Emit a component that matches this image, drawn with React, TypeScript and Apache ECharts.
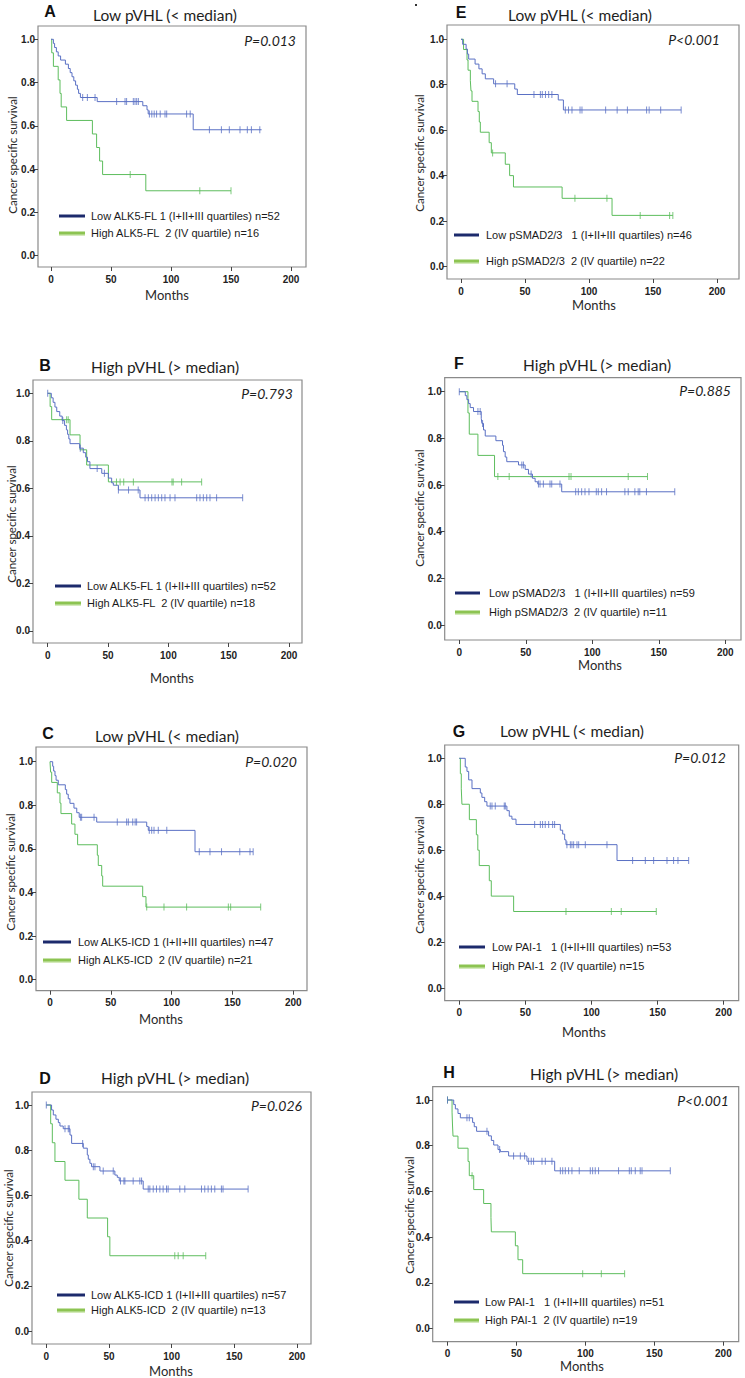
import React, { useEffect, useRef } from "react";
import * as echarts from "echarts";

// ---------- tick values ----------
const xTicks = [0, 50, 100, 150, 200];
const yTicks = [0, 0.2, 0.4, 0.6, 0.8, 1.0];

// ---------- texts ----------
const panelLetters = ["A", "B", "C", "D", "E", "F", "G", "H"];
const panelTitles = [
  "Low pVHL (< median)", "High pVHL (> median)", "Low pVHL (< median)", "High pVHL (> median)",
  "Low pVHL (< median)", "High pVHL (> median)", "Low pVHL (< median)", "High pVHL (> median)",
];
const pValues = ["P=0.013", "P=0.793", "P=0.020", "P=0.026", "P<0.001", "P=0.885", "P=0.012", "P<0.001"];
const lowLabels = [
  "Low ALK5-FL 1 (I+II+III quartiles) n=52",
  "Low ALK5-FL 1 (I+II+III quartiles) n=52",
  "Low ALK5-ICD 1 (I+II+III quartiles) n=47",
  "Low ALK5-ICD 1 (I+II+III quartiles) n=57",
  "Low pSMAD2/3   1 (I+II+III quartiles) n=46",
  "Low pSMAD2/3   1 (I+II+III quartiles) n=59",
  "Low PAI-1   1 (I+II+III quartiles) n=53",
  "Low PAI-1   1 (I+II+III quartiles) n=51",
];
const highLabels = [
  "High ALK5-FL  2 (IV quartile) n=16",
  "High ALK5-FL  2 (IV quartile) n=18",
  "High ALK5-ICD  2 (IV quartile) n=21",
  "High ALK5-ICD  2 (IV quartile) n=13",
  "High pSMAD2/3  2 (IV quartile) n=22",
  "High pSMAD2/3  2 (IV quartile) n=11",
  "High PAI-1  2 (IV quartile) n=15",
  "High PAI-1  2 (IV quartile) n=19",
];
const yAxisTitle = "Cancer specific survival";
const xAxisTitle = "Months";

// ---------- data: [months, survival] ----------
// Panel A
const aLowSteps = [[0,1],[2,0.981],[3,0.962],[4.5,0.942],[6,0.923],[8,0.904],[12,0.885],[14.5,0.865],[16,0.846],[17.5,0.827],[19,0.808],[20.5,0.788],[22,0.769],[23,0.75],[24.5,0.731],[38.5,0.712],[76.5,0.693],[80,0.674],[81,0.655],[118.5,0.582],[175.5,0.582]];
const aLowCens = [[26.4,0.731],[30.3,0.731],[36.7,0.731],[54.7,0.712],[61.7,0.712],[63,0.712],[68.6,0.712],[70,0.712],[71.4,0.712],[72.8,0.712],[82,0.655],[84,0.655],[86,0.655],[88,0.655],[91,0.655],[95,0.655],[96.4,0.655],[113,0.655],[116,0.655],[132,0.582],[142,0.582],[148.6,0.582],[157.5,0.582],[163.6,0.582],[167,0.582],[174,0.582]];
const aHighSteps = [[0,1],[0.6,0.9375],[2,0.875],[6,0.8125],[7.5,0.75],[8.5,0.6875],[13,0.625],[34.5,0.5625],[38,0.5],[40.5,0.4375],[43,0.375],[79,0.3],[150,0.3]];
const aHighCens = [[66,0.375],[124,0.3],[150,0.3]];
// Panel B
const bLowSteps = [[0,1],[3,0.981],[4.5,0.962],[6,0.942],[7.5,0.923],[10,0.904],[12,0.885],[14,0.865],[15.5,0.846],[16.5,0.827],[17.5,0.808],[18.5,0.788],[26.5,0.769],[29.5,0.75],[31.5,0.731],[33,0.712],[35,0.683],[44.8,0.663],[50.3,0.643],[53,0.623],[54.4,0.613],[58.6,0.593],[76.5,0.56],[161.6,0.56]];
const bLowCens = [[0,1],[12.5,0.885],[27,0.769],[41,0.683],[47,0.663],[58.6,0.593],[67,0.593],[75,0.593],[80.7,0.56],[83.4,0.56],[86.2,0.56],[89,0.56],[91.7,0.56],[94.5,0.56],[97.2,0.56],[101.4,0.56],[105.5,0.56],[123.5,0.56],[126.2,0.56],[129,0.56],[131.8,0.56],[134.5,0.56],[140,0.56],[161.6,0.56]];
const bHighSteps = [[0,1],[2,0.944],[3.3,0.889],[18.5,0.825],[26.8,0.762],[32.3,0.698],[50.3,0.627],[127.6,0.627]];
const bHighCens = [[15.7,0.889],[17,0.889],[57,0.627],[60,0.627],[63,0.627],[71,0.627],[103,0.627],[104,0.627],[111,0.627],[127.6,0.627]];
// Panel C
const cLowSteps = [[0,1],[2.2,0.979],[3,0.957],[4.1,0.936],[5,0.915],[6.8,0.894],[12.6,0.872],[13.7,0.851],[15,0.83],[16.4,0.809],[19.7,0.787],[22,0.766],[24,0.745],[38.4,0.723],[79.5,0.703],[80.8,0.685],[119.2,0.587],[167,0.587]];
const cLowCens = [[25,0.745],[26,0.745],[36.2,0.745],[55.3,0.723],[63,0.723],[64.4,0.723],[68,0.723],[70,0.723],[71.2,0.723],[81.6,0.685],[83.6,0.685],[85.5,0.685],[89,0.685],[96,0.685],[122.7,0.587],[131.5,0.587],[141,0.587],[156,0.587],[164.4,0.587],[167,0.587]];
const cHighSteps = [[0,1],[0.5,0.952],[1.4,0.905],[6,0.857],[8.2,0.81],[9,0.762],[17.8,0.714],[20.5,0.667],[22.7,0.619],[38.9,0.571],[39.7,0.524],[42.5,0.476],[43.3,0.429],[76.2,0.381],[78.9,0.333],[173.2,0.333]];
const cHighCens = [[79.5,0.333],[93.7,0.333],[112.3,0.333],[146.6,0.333],[148.5,0.333],[173.2,0.333]];
// Panel D
const dLowSteps = [[0,1],[4.2,0.978],[5.6,0.956],[7.7,0.937],[9.6,0.922],[10.9,0.907],[13.5,0.895],[18.9,0.867],[20.2,0.83],[29.5,0.809],[32.7,0.779],[33.5,0.76],[34.8,0.742],[36.1,0.727],[42.8,0.708],[54.7,0.69],[56.6,0.68],[58.2,0.664],[77.3,0.628],[161,0.628]];
const dLowCens = [[0,1],[14.9,0.895],[17.5,0.895],[18.3,0.895],[29,0.83],[37.5,0.727],[38.8,0.727],[45.4,0.708],[53.4,0.708],[59.2,0.664],[61.9,0.664],[62.7,0.664],[69.3,0.664],[74.6,0.664],[76,0.664],[81.3,0.628],[82.6,0.628],[85.3,0.628],[87.9,0.628],[90.6,0.628],[93.2,0.628],[95.9,0.628],[97.2,0.628],[106.5,0.628],[110.5,0.628],[123.8,0.628],[126.4,0.628],[129.1,0.628],[131.7,0.628],[134.4,0.628],[139.7,0.628],[141,0.628],[161,0.628]];
const dHighSteps = [[0,1],[3.5,0.917],[4.8,0.833],[6.9,0.75],[14.9,0.667],[26,0.583],[32.7,0.5],[48.9,0.417],[50.7,0.333],[127.2,0.333]];
const dHighCens = [[102.5,0.333],[105.2,0.333],[109.2,0.333],[127.2,0.333]];
// Panel E
const eLowSteps = [[0,1],[1.3,0.978],[4,0.957],[5,0.935],[6,0.913],[11,0.891],[14,0.87],[16.5,0.848],[19,0.826],[25.5,0.804],[42,0.781],[44,0.757],[76,0.733],[80,0.689],[172,0.689]];
const eLowCens = [[27,0.804],[36,0.804],[57,0.757],[62,0.757],[63.5,0.757],[66,0.757],[68.5,0.757],[71,0.757],[81.5,0.689],[84,0.689],[86.7,0.689],[93,0.689],[94.5,0.689],[113,0.689],[122,0.689],[130,0.689],[145,0.689],[147,0.689],[156,0.689],[172,0.689]];
const eHighSteps = [[0,1],[2,0.955],[4.7,0.909],[5.5,0.864],[7.3,0.818],[7.8,0.773],[8.6,0.727],[13.3,0.682],[14.3,0.636],[15.1,0.591],[22,0.545],[23.7,0.5],[34.6,0.45],[38,0.4],[41,0.35],[79,0.3],[118,0.225],[165.5,0.225]];
const eHighCens = [[24.7,0.5],[89,0.3],[114,0.3],[140,0.225],[163,0.225],[165.5,0.225]];
// Panel F
const fLowSteps = [[0,1],[4.5,0.983],[5.7,0.966],[7,0.949],[8.2,0.932],[10.7,0.915],[16.5,0.886],[17,0.864],[18.2,0.836],[19.5,0.81],[27.5,0.79],[32.5,0.77],[33.2,0.743],[34.5,0.72],[35.7,0.7],[44.5,0.686],[49.5,0.667],[52,0.647],[55,0.629],[57,0.614],[59,0.604],[77,0.571],[162,0.571]];
const fLowCens = [[0,1],[14,0.915],[15.7,0.915],[17.5,0.864],[47,0.686],[48.2,0.686],[54,0.647],[59.5,0.604],[60.7,0.604],[63.2,0.604],[68.2,0.604],[69.5,0.604],[75.7,0.604],[87.5,0.571],[89.5,0.571],[92,0.571],[94.5,0.571],[97.5,0.571],[103,0.571],[104.5,0.571],[107,0.571],[110.7,0.571],[124.5,0.571],[127,0.571],[132,0.571],[134.5,0.571],[135.7,0.571],[140.7,0.571],[162,0.571]];
const fHighSteps = [[0,1],[6.5,0.909],[7.5,0.818],[14,0.727],[26.5,0.636],[141.5,0.636]];
const fHighCens = [[29,0.636],[37.5,0.636],[82.5,0.636],[84,0.636],[127,0.636],[141.5,0.636]];
// Panel G
const gLowSteps = [[0,1],[4.5,0.962],[5.8,0.943],[7.1,0.906],[9.6,0.868],[15.9,0.849],[17.1,0.83],[19.2,0.811],[20.9,0.792],[36,0.772],[37.8,0.748],[39.8,0.735],[42.9,0.712],[76.4,0.687],[78.2,0.67],[79.7,0.645],[80.7,0.624],[119.3,0.555],[173.5,0.555]];
const gLowCens = [[23.4,0.792],[24.7,0.792],[27.2,0.792],[34,0.792],[34.8,0.792],[57,0.712],[61.3,0.712],[63,0.712],[65,0.712],[67.6,0.712],[70.6,0.712],[72.1,0.712],[81.4,0.624],[84,0.624],[85.2,0.624],[86.5,0.624],[89,0.624],[90.3,0.624],[95.3,0.624],[111.7,0.624],[131.1,0.555],[140.7,0.555],[147,0.555],[157.1,0.555],[162.1,0.555],[165.4,0.555],[173.5,0.555]];
const gHighSteps = [[0,1],[0.8,0.933],[1.5,0.867],[2,0.8],[7.6,0.733],[12.9,0.667],[14,0.6],[15.1,0.533],[22.7,0.467],[24.2,0.4],[41.1,0.333],[149,0.333]];
const gHighCens = [[80.7,0.333],[115,0.333],[122.5,0.333],[149,0.333]];
// Panel H
const hLowSteps = [[0,1],[4.5,0.98],[5.7,0.961],[7.6,0.941],[9.3,0.922],[18.2,0.902],[19.4,0.883],[21.1,0.863],[29.8,0.843],[31.8,0.823],[33.5,0.803],[36.6,0.783],[38.3,0.774],[44.3,0.755],[57.6,0.732],[77.7,0.69],[161.5,0.69]];
const hLowCens = [[0,1],[14.1,0.922],[15.8,0.922],[28.6,0.863],[37.8,0.783],[47.9,0.755],[52.8,0.755],[55.9,0.755],[58.8,0.732],[60.7,0.732],[62.4,0.732],[68.5,0.732],[70.9,0.732],[75.7,0.732],[81.8,0.69],[83.5,0.69],[85.4,0.69],[87.8,0.69],[90.2,0.69],[95.5,0.69],[103.5,0.69],[105.2,0.69],[107.1,0.69],[109.5,0.69],[124,0.69],[131.8,0.69],[133.2,0.69],[136.1,0.69],[139.7,0.69],[141,0.69],[161.5,0.69]];
const hHighSteps = [[0,1],[3.3,0.947],[3.6,0.895],[4,0.842],[7.6,0.789],[14.9,0.731],[15.8,0.669],[19,0.608],[26.2,0.547],[31.5,0.485],[31.8,0.423],[49.2,0.362],[51.1,0.301],[54.5,0.24],[128.4,0.24]];
const hHighCens = [[0,1],[17.8,0.669],[98,0.24],[111.5,0.24],[128.4,0.24]];

const lowStepsAll = [aLowSteps, bLowSteps, cLowSteps, dLowSteps, eLowSteps, fLowSteps, gLowSteps, hLowSteps];
const lowCensAll = [aLowCens, bLowCens, cLowCens, dLowCens, eLowCens, fLowCens, gLowCens, hLowCens];
const highStepsAll = [aHighSteps, bHighSteps, cHighSteps, dHighSteps, eHighSteps, fHighSteps, gHighSteps, hHighSteps];
const highCensAll = [aHighCens, bHighCens, cHighCens, dHighCens, eHighCens, fHighCens, gHighCens, hHighCens];

// ---------- layout (page pixels) ----------
// box: l,t,r,b ; x0/x200: pixel of month 0 / 200 ; y1/y0: pixel of survival 1.0 / 0.0
const boxes = [
  { l: 38, t: 26, r: 306, b: 267, x0: 51, x200: 291, y1: 39.3, y0: 255.7 },
  { l: 33, t: 380, r: 302, b: 643, x0: 47.7, x200: 289, y1: 393.3, y0: 630.8 },
  { l: 36, t: 747, r: 307, b: 990.7, x0: 50, x200: 293.3, y1: 761.7, y0: 979.7 },
  { l: 32, t: 1092, r: 311, b: 1344, x0: 46.3, x200: 297, y1: 1105, y0: 1331 },
  { l: 447, t: 25, r: 739, b: 279, x0: 461, x200: 717, y1: 39.3, y0: 266.5 },
  { l: 444.7, t: 377.7, r: 741, b: 640, x0: 459.3, x200: 725.3, y1: 391.7, y0: 625 },
  { l: 444.7, t: 745, r: 738.7, b: 1000.7, x0: 459.3, x200: 723.7, y1: 758.3, y0: 988 },
  { l: 432.7, t: 1086.7, r: 738.7, b: 1341.7, x0: 447.5, x200: 723.4, y1: 1100, y0: 1328.5 },
];
const texts = [
  { letter: [50, 11], title: [165, 15], p: [296, 40], ylab: [12, 155], months: [167, 295], lg: { x1: 59, x2: 85, tx: 91, yl: 216, yh: 233 } },
  { letter: [45, 365], title: [165, 367], p: [293, 393], ylab: [11, 524], months: [172, 678], lg: { x1: 55, x2: 81, tx: 87, yl: 586, yh: 603 } },
  { letter: [48, 733], title: [167, 736], p: [297, 761], ylab: [10, 872], months: [161, 1019], lg: { x1: 43, x2: 71, tx: 78, yl: 942, yh: 960 } },
  { letter: [45, 1078], title: [175, 1078], p: [302, 1105], ylab: [8, 1228], months: [171, 1371], lg: { x1: 57, x2: 85, tx: 91, yl: 1295, yh: 1310 } },
  { letter: [461, 12], title: [580, 15], p: [720, 39], ylab: [419, 153], months: [594, 305], lg: { x1: 454, x2: 479, tx: 486, yl: 235, yh: 261 } },
  { letter: [459, 363], title: [597, 365], p: [731, 390], ylab: [419, 508], months: [600, 665], lg: { x1: 455, x2: 480, tx: 489, yl: 593, yh: 612 } },
  { letter: [459, 731], title: [572, 731], p: [726, 757], ylab: [419, 875], months: [584, 1032], lg: { x1: 459, x2: 485, tx: 492, yl: 947, yh: 966 } },
  { letter: [449, 1072], title: [604, 1074], p: [729, 1100], ylab: [409, 1215], months: [582, 1366], lg: { x1: 454, x2: 479, tx: 485, yl: 1302, yh: 1320 } },
];

const BLUE = "#5a70c4";
const GREEN = "#5dbd5d";
const NAVY = "#1c2a6c";
const LGREEN = "#8dc452";
const TICKFONT = "'Liberation Sans Narrow', 'Liberation Sans', Arial, sans-serif";
const TEXTFONT = "Lato, 'Open Sans', sans-serif";
const LEGFONT = "'Liberation Sans Narrow', 'Liberation Sans', sans-serif";

function txt(x: number, y: number, text: string, extra: any = {}) {
  const s: any = {
    text,
    fill: "#222",
    fontSize: 13,
    fontWeight: "normal",
    fontFamily: TEXTFONT,
    align: "center",
    textAlign: "center",
    verticalAlign: "middle",
    textVerticalAlign: "middle",
    ...extra.style,
  };
  return { type: "text", x, y, rotation: extra.rotation || 0, silent: true, style: s };
}

function buildOption() {
  const grid: any[] = [];
  const xAxis: any[] = [];
  const yAxis: any[] = [];
  const series: any[] = [];
  const graphic: any[] = [];

  boxes.forEach((bx, i) => {
    const pxm = (bx.x200 - bx.x0) / 200;
    const pxu = bx.y0 - bx.y1;
    grid.push({
      left: bx.l, top: bx.t, width: bx.r - bx.l, height: bx.b - bx.t,
      show: true, borderColor: "#8a8a8a", borderWidth: 1.2, backgroundColor: "transparent",
    });
    xAxis.push({
      type: "value", gridIndex: i,
      min: (bx.l - bx.x0) / pxm, max: (bx.r - bx.x0) / pxm,
      axisLine: { show: false, onZero: false },
      splitLine: { show: false },
      axisTick: { show: true, customValues: xTicks, length: 4, lineStyle: { color: "#444", width: 1 } },
      axisLabel: {
        customValues: xTicks, margin: 7, fontSize: 10, fontWeight: "bold",
        fontFamily: TICKFONT, color: "#222",
        formatter: (v: number) => String(Math.round(v)),
      },
    });
    yAxis.push({
      type: "value", gridIndex: i,
      min: -(bx.b - bx.y0) / pxu, max: (bx.y0 - bx.t) / pxu,
      axisLine: { show: false, onZero: false },
      splitLine: { show: false },
      axisTick: { show: true, customValues: yTicks, length: 4, lineStyle: { color: "#444", width: 1 } },
      axisLabel: {
        customValues: yTicks, margin: 3, fontSize: 10, fontWeight: "bold",
        fontFamily: TICKFONT, color: "#222",
        formatter: (v: number) => v.toFixed(1),
      },
    });

    const mk = (name: string, steps: number[][], cens: number[][], color: string) => {
      series.push({
        type: "line", name, xAxisIndex: i, yAxisIndex: i, data: steps, step: "end",
        symbol: "none", silent: true, lineStyle: { color, width: 1 }, z: 3,
      });
      series.push({
        type: "scatter", name: name + " censored", xAxisIndex: i, yAxisIndex: i, data: cens,
        symbol: "rect", symbolSize: [1, 7], silent: true, itemStyle: { color }, z: 4,
      });
    };
    mk(highLabels[i], highStepsAll[i], highCensAll[i], GREEN);
    mk(lowLabels[i], lowStepsAll[i], lowCensAll[i], BLUE);

    const t = texts[i];
    graphic.push(txt(t.letter[0], t.letter[1], panelLetters[i], {
      style: { fontSize: 16, fontWeight: "bold", fontFamily: "'Liberation Sans', Arial, sans-serif", fill: "#111" },
    }));
    graphic.push(txt(t.title[0], t.title[1], panelTitles[i], { style: { fontSize: 15.5, fill: "#1e1e1e" } }));
    graphic.push(txt(t.p[0], t.p[1], pValues[i], {
      style: { fontSize: 14, fontStyle: "italic", align: "right", textAlign: "right", fill: "#1e1e1e" },
    }));
    graphic.push(txt(t.ylab[0], t.ylab[1], yAxisTitle, { rotation: Math.PI / 2, style: { fontSize: 11.5, fill: "#2a2a2a" } }));
    graphic.push(txt(t.months[0], t.months[1], xAxisTitle, { style: { fontSize: 13, fill: "#2a2a2a" } }));
    const lg = t.lg;
    graphic.push({ type: "line", silent: true, shape: { x1: lg.x1, y1: lg.yl, x2: lg.x2, y2: lg.yl }, style: { stroke: NAVY, lineWidth: 3 } });
    graphic.push({ type: "line", silent: true, shape: { x1: lg.x1, y1: lg.yh + 1.5, x2: lg.x2, y2: lg.yh + 1.5 }, style: { stroke: "#d4eabb", lineWidth: 3 } });
    graphic.push({ type: "line", silent: true, shape: { x1: lg.x1, y1: lg.yh, x2: lg.x2, y2: lg.yh }, style: { stroke: LGREEN, lineWidth: 3 } });
    graphic.push(txt(lg.tx, lg.yl, lowLabels[i], {
      style: { fontSize: 11, fontFamily: LEGFONT, align: "left", textAlign: "left", fill: "#1a1a1a" },
    }));
    graphic.push(txt(lg.tx, lg.yh, highLabels[i], {
      style: { fontSize: 11, fontFamily: LEGFONT, align: "left", textAlign: "left", fill: "#1a1a1a" },
    }));
  });

  graphic.push({ type: "rect", silent: true, shape: { x: 415, y: 4, width: 2, height: 2 }, style: { fill: "#333" } });

  return {
    animation: false,
    backgroundColor: "#ffffff",
    grid, xAxis, yAxis, series, graphic,
  };
}

export default function App() {
  const ref = useRef<HTMLDivElement>(null);
  useEffect(() => {
    if (!ref.current) return;
    const chart = echarts.init(ref.current, undefined, { renderer: "svg" });
    chart.setOption(buildOption() as any);
    return () => chart.dispose();
  }, []);
  return (
    <div
      ref={ref}
      style={{ position: "absolute", left: 0, top: 0, width: 745, height: 1378, background: "#fff" }}
    />
  );
}
